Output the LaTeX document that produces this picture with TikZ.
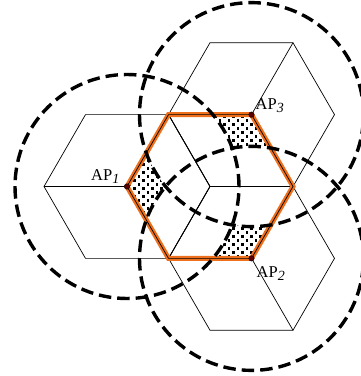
\documentclass[tikz,border=0pt]{standalone}
\usepackage{fontspec}
\setmainfont{Liberation Serif}
\usetikzlibrary{calc}
\definecolor{hexorange}{RGB}{238,112,28}
\definecolor{apred}{RGB}{90,0,0}
\tikzset{
  thin line/.style={draw=black, line width=0.7pt},
  cover/.style={draw=black, line width=3.4pt, dash pattern=on 12.5pt off 6pt},
  borderline/.style={draw=hexorange, line width=5pt, line join=miter},
  apdot/.style={circle, fill=apred, draw=black, line width=0.4pt, inner sep=0pt, minimum size=5.5pt},
  aplabel/.style={inner sep=0pt, anchor=base west, font=\fontsize{16.5}{16.5}\selectfont},
}
\newcommand{\apsub}[1]{\raisebox{-3pt}{\fontsize{14}{14}\selectfont\itshape #1}}
\newcommand{\dotfield}{%
  \foreach \i in {0,...,19}{\foreach \j in {0,...,19}{
    \fill ({124+9*\i},{114+8*\j}) rectangle ++(2.8,2.8);
    \fill ({128.5+9*\i},{118+8*\j}) rectangle ++(2.8,2.8);
  }}}
\begin{document}
\begin{tikzpicture}[x=1pt,y=1pt]
\useasboundingbox (0,0) rectangle (360,376);
\def\R{83}
\def\rc{112}
\coordinate (O) at (210,189.5);
\coordinate (A1) at (127,189.5);
\coordinate (A3) at ($(O)+(60:\R)$);
\coordinate (A2) at ($(O)+(-60:\R)$);
% cells
\foreach \c in {A1,A2,A3,O}{
  \draw[thin line] ($(\c)+(0:\R)$) \foreach \a in {60,120,...,300}{ -- ($(\c)+(\a:\R)$)} -- cycle;
}
\foreach \c in {A1,A2,A3}{
  \foreach \a in {180,60,300}{ \draw[thin line] (\c) -- ($(\c)+(\a:\R)$); }
}
\foreach \a in {120,0,240}{ \draw[thin line] (O) -- ($(O)+(\a:\R)$); }
% dotted single-coverage areas
\begin{scope}
  \clip ($(O)+(0:\R)$) \foreach \a in {60,120,...,300}{ -- ($(O)+(\a:\R)$)} -- cycle;
  \begin{scope}[even odd rule]
    \clip (-20,-20) rectangle (400,400) (A2) circle (\rc);
    \clip (-20,-20) rectangle (400,400) (A3) circle (\rc);
    \clip (A1) circle (60);
    \dotfield
  \end{scope}
  \begin{scope}[even odd rule]
    \clip (-20,-20) rectangle (400,400) (A1) circle (\rc);
    \clip (-20,-20) rectangle (400,400) (A3) circle (\rc);
    \clip (A2) circle (60);
    \dotfield
  \end{scope}
  \begin{scope}[even odd rule]
    \clip (-20,-20) rectangle (400,400) (A1) circle (\rc);
    \clip (-20,-20) rectangle (400,400) (A2) circle (\rc);
    \clip (A3) circle (60);
    \dotfield
  \end{scope}
\end{scope}
% orange border of the central cell
\draw[borderline] ($(O)+(0:\R)$) \foreach \a in {60,120,...,300}{ -- ($(O)+(\a:\R)$)} -- cycle;
\draw[thin line] ($(O)+(0:\R)$) \foreach \a in {60,120,...,300}{ -- ($(O)+(\a:\R)$)} -- cycle;
% coverage circles
\foreach \c in {A1,A2,A3}{ \draw[cover] (\c) circle (\rc); }
% access points
\node[apdot] (p1) at (A1) {};
\node[apdot] (p2) at (A2) {};
\node[apdot] (p3) at (A3) {};
\node[aplabel] (l1) at (91,196) {AP\apsub{1}};
\node[aplabel] (l3) at (255.5,266) {AP\apsub{3}};
\node[aplabel] (l2) at (256.5,99) {AP\apsub{2}};
\end{tikzpicture}
\end{document}
